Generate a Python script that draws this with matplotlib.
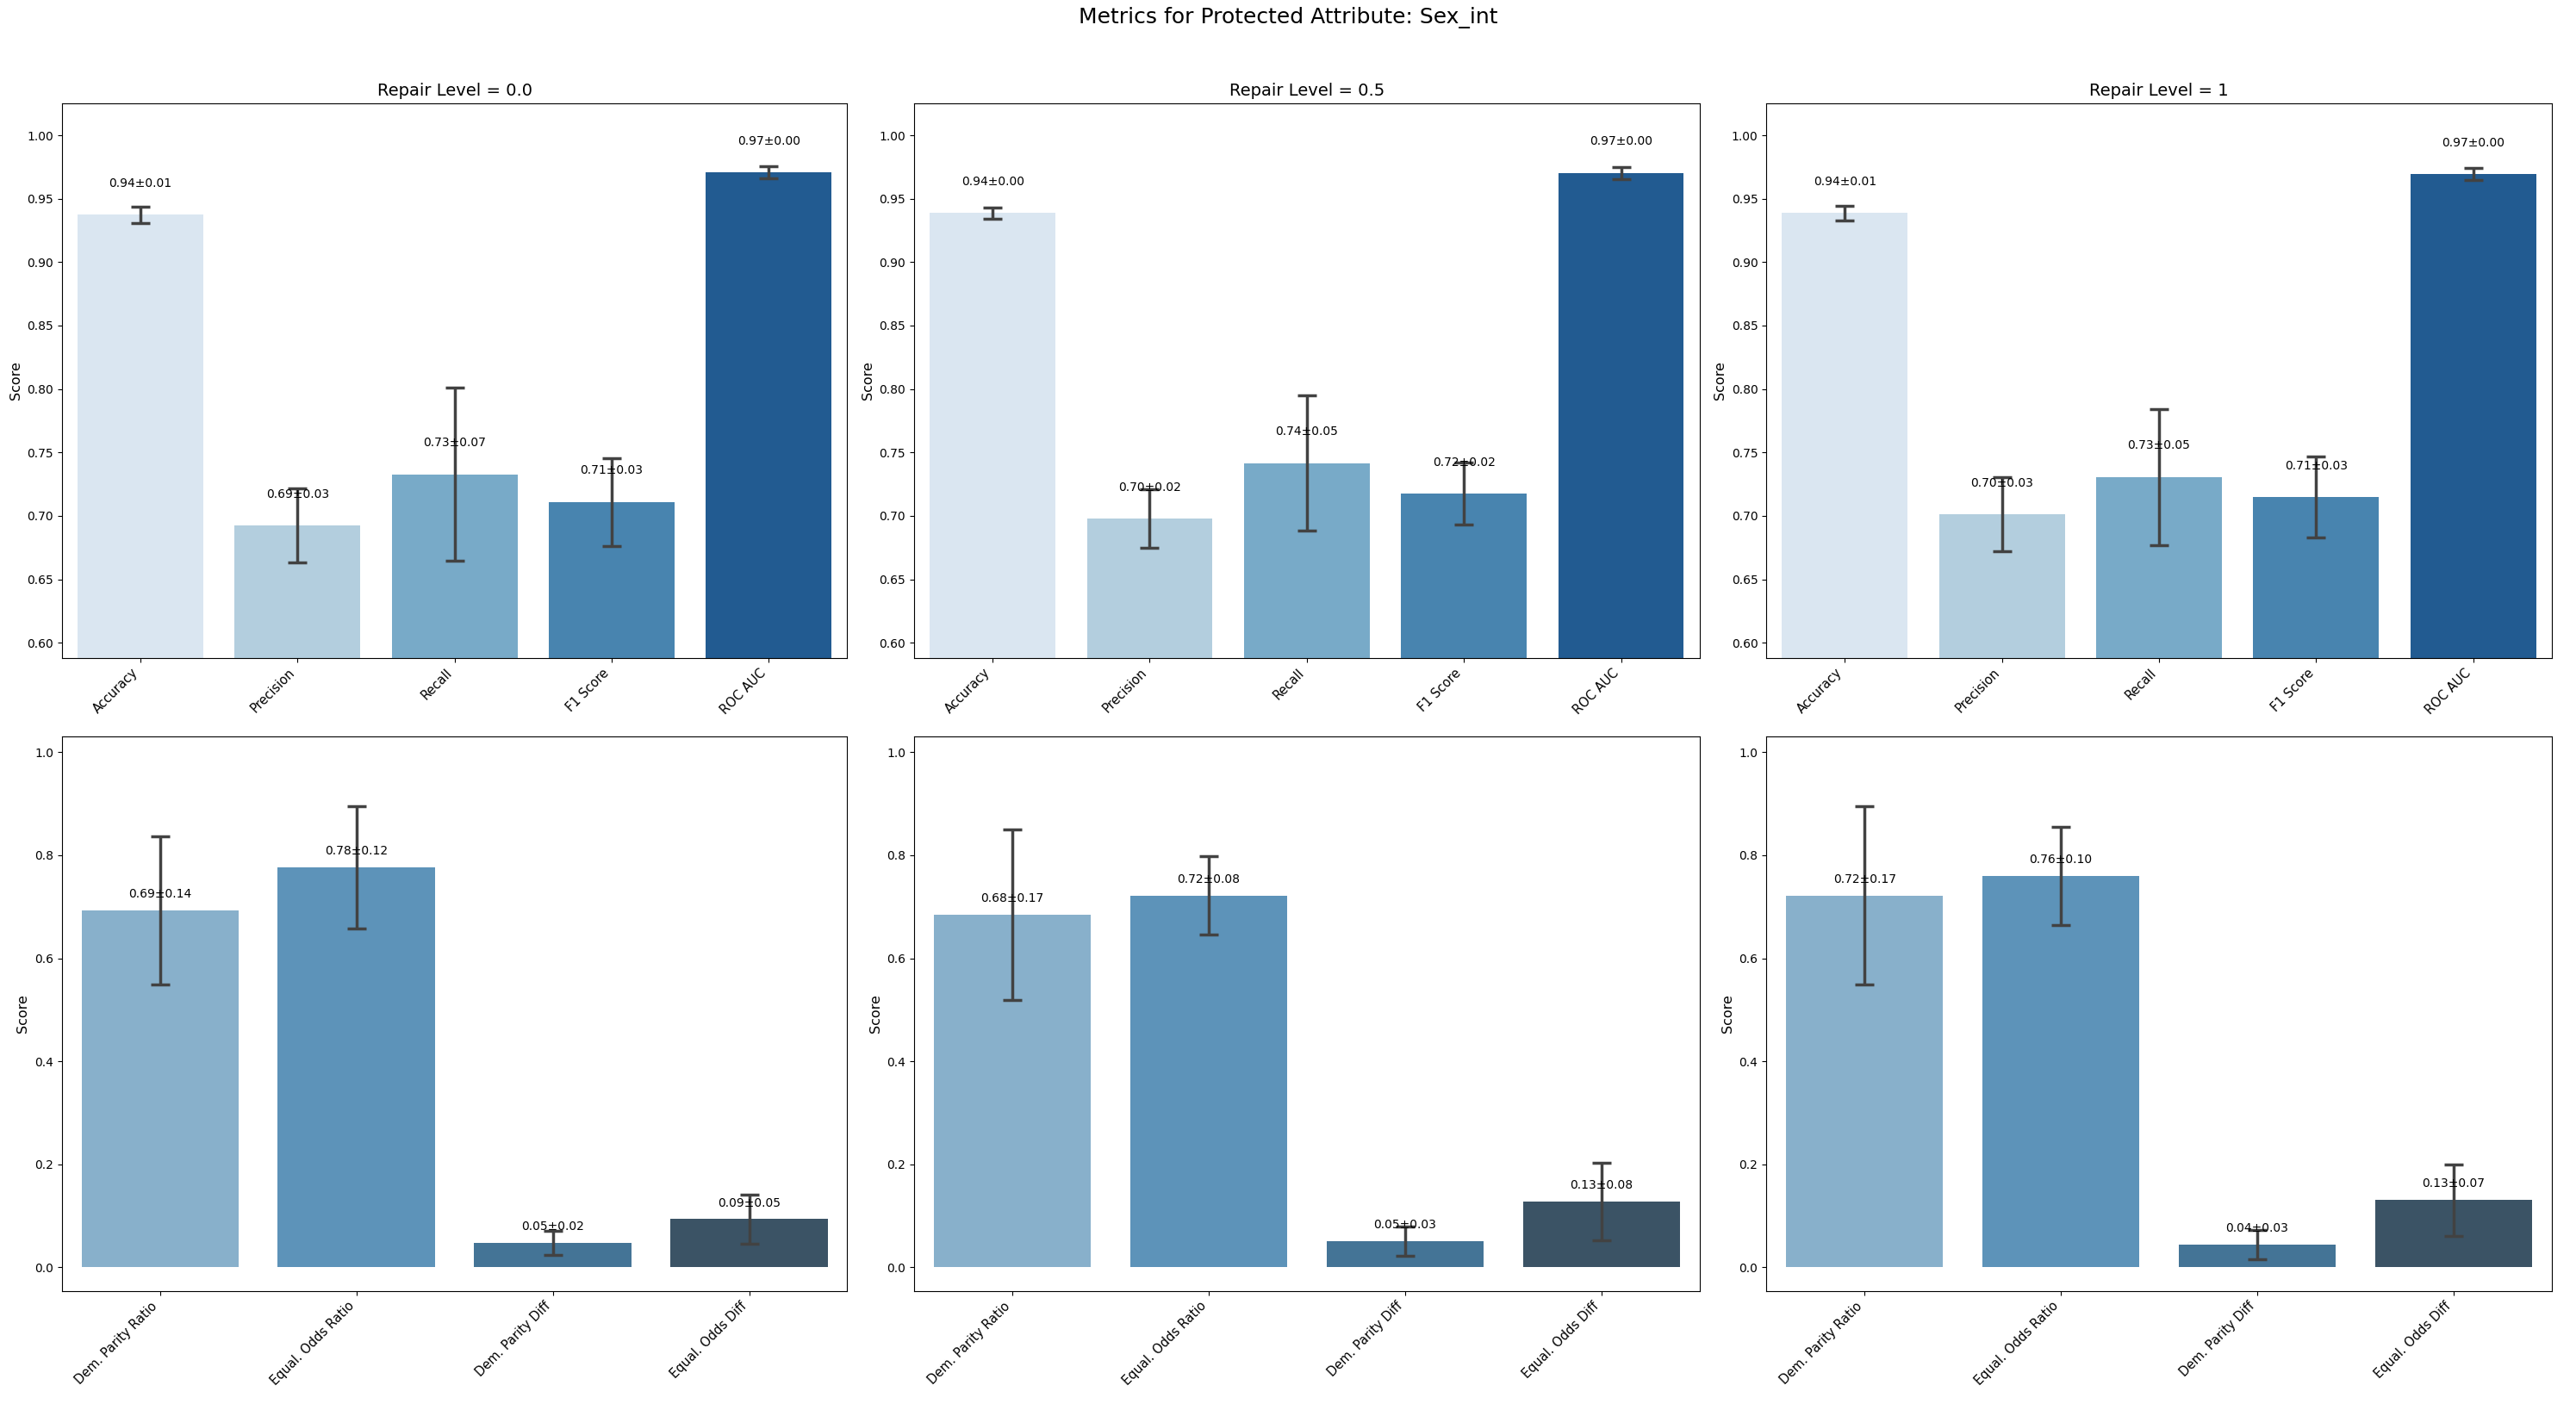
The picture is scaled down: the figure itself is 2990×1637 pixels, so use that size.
import matplotlib
matplotlib.use("Agg")
import matplotlib.pyplot as plt
import seaborn as sns
import numpy as np

# ---- data ----
repair_levels = ["0.0", "0.5", "1"]
perf_metrics = ["Accuracy", "Precision", "Recall", "F1 Score", "ROC AUC"]
fair_metrics = ["Dem. Parity Ratio", "Equal. Odds Ratio", "Dem. Parity Diff", "Equal. Odds Diff"]

perf_mean_r00 = [0.9373, 0.6924, 0.7327, 0.7109, 0.9706]
perf_std_r00 = [0.0065, 0.0294, 0.0684, 0.0345, 0.0048]
perf_mean_r05 = [0.9386, 0.6979, 0.7415, 0.7176, 0.9703]
perf_std_r05 = [0.0044, 0.0230, 0.0533, 0.0244, 0.0048]
perf_mean_r10 = [0.9388, 0.7012, 0.7306, 0.7148, 0.9694]
perf_std_r10 = [0.0058, 0.0294, 0.0536, 0.0318, 0.0047]

fair_mean_r00 = [0.6928, 0.7762, 0.0477, 0.0936]
fair_std_r00 = [0.1438, 0.1190, 0.0238, 0.0470]
fair_mean_r05 = [0.6846, 0.7220, 0.0508, 0.1278]
fair_std_r05 = [0.1655, 0.0763, 0.0288, 0.0755]
fair_mean_r10 = [0.7220, 0.7601, 0.0441, 0.1308]
fair_std_r10 = [0.1734, 0.0953, 0.0284, 0.0695]

perf_means = [perf_mean_r00, perf_mean_r05, perf_mean_r10]
perf_stds = [perf_std_r00, perf_std_r05, perf_std_r10]
fair_means = [fair_mean_r00, fair_mean_r05, fair_mean_r10]
fair_stds = [fair_std_r00, fair_std_r05, fair_std_r10]

# ---- style ----
top_colors = [sns.desaturate(c, 0.75) for c in sns.color_palette("Blues", 5)]
bot_colors = [sns.desaturate(c, 0.75) for c in sns.color_palette("Blues_d", 4)]
err_color = "#424242"

fig, axes = plt.subplots(2, 3, figsize=(29.9, 16.37), dpi=100)
fig.subplots_adjust(left=0.024, right=0.9906, top=0.927, bottom=0.0843,
                    wspace=0.085, hspace=0.141)
fig.suptitle("Metrics for Protected Attribute: Sex_int", fontsize=18, y=0.995)

def draw(ax, labels, means, stds, colors, ylim, offset):
    x = np.arange(len(labels))
    ax.bar(x, means, width=0.8, color=colors)
    ax.errorbar(x, means, yerr=stds, fmt="none", ecolor=err_color,
                elinewidth=2.5, capsize=8, capthick=2.5)
    for xi, m, s in zip(x, means, stds):
        ax.text(xi, m + offset, f"{m:.2f}±{s:.2f}", ha="center", va="bottom",
                fontsize=10)
    ax.set_xticks(x)
    ax.set_xticklabels(labels, rotation=45, ha="right", fontsize=10.5)
    ax.set_xlim(-0.5, len(labels) - 0.5)
    ax.set_ylim(*ylim)
    ax.set_ylabel("Score", fontsize=11.5)
    ax.tick_params(axis="y", labelsize=10)

for j, lvl in enumerate(repair_levels):
    draw(axes[0, j], perf_metrics, perf_means[j], perf_stds[j], top_colors,
         (0.588, 1.0255), 0.02)
    axes[0, j].set_title(f"Repair Level = {lvl}", fontsize=14)
    draw(axes[1, j], fair_metrics, fair_means[j], fair_stds[j], bot_colors,
         (-0.046, 1.031), 0.02)

fig.savefig("out.png", dpi=100)
